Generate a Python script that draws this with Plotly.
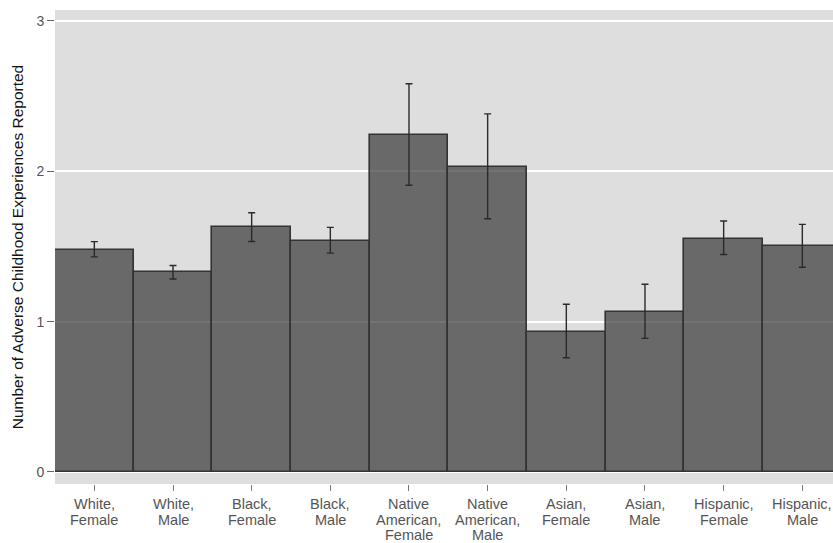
import plotly.graph_objects as go

# Mean number of adverse childhood experiences by race/ethnicity and sex, with 95% CIs
groups = [
    "White,<br>Female", "White,<br>Male", "Black,<br>Female", "Black,<br>Male",
    "Native<br>American,<br>Female", "Native<br>American,<br>Male",
    "Asian,<br>Female", "Asian,<br>Male", "Hispanic,<br>Female", "Hispanic,<br>Male",
]
means = [1.475, 1.327, 1.627, 1.536, 2.242, 2.029, 0.933, 1.067, 1.553, 1.500]
ci_low = [1.431, 1.284, 1.533, 1.456, 1.907, 1.684, 0.760, 0.889, 1.447, 1.362]
ci_high = [1.532, 1.373, 1.724, 1.627, 2.582, 2.382, 1.116, 1.249, 1.669, 1.647]
y_ticks = [0, 1, 2, 3]

x_pos = list(range(len(groups)))
err_plus = [h - m for h, m in zip(ci_high, means)]
err_minus = [m - l for m, l in zip(means, ci_low)]

fig = go.Figure(
    go.Bar(
        x=x_pos,
        y=means,
        width=1.0,
        marker=dict(color="rgba(56,56,56,0.7)", line=dict(color="#333333", width=1.6)),
        error_y=dict(
            type="data",
            symmetric=False,
            array=err_plus,
            arrayminus=err_minus,
            color="#2a2a2a",
            thickness=1.4,
            width=3.5,
        ),
        hoverinfo="skip",
    )
)

# Category labels: one text line per annotation, so the line spacing stays tight
label_font = dict(family="Liberation Sans, Arial, Helvetica, sans-serif", size=14.5, color="#555555")
for i, label in enumerate(groups):
    for k, line in enumerate(label.split("<br>")):
        fig.add_annotation(
            x=i, xref="x", y=0, yref="paper",
            text=line, showarrow=False,
            xanchor="center", yanchor="middle",
            yshift=-(20 + 15.5 * k),
            font=label_font,
        )

fig.update_layout(
    width=833,
    height=543,
    margin=dict(l=55, r=0, t=10, b=59),
    paper_bgcolor="white",
    plot_bgcolor="#dedede",
    font=dict(family="Liberation Sans, Arial, Helvetica, sans-serif", size=13, color="#555555"),
    showlegend=False,
    bargap=0,
)

fig.update_xaxes(
    tickmode="array",
    tickvals=x_pos,
    showticklabels=False,
    range=[-0.5, 9.39],
    showgrid=False,
    zeroline=False,
    showline=False,
    ticks="outside",
    ticklen=6,
    tickwidth=1,
    tickcolor="#777777",
    fixedrange=True,
)

fig.update_yaxes(
    range=[-0.08, 3.073],
    tickvals=y_ticks,
    ticktext=[str(v) for v in y_ticks],
    showgrid=True,
    gridcolor="white",
    gridwidth=1.5,
    zeroline=False,
    showline=False,
    ticks="outside",
    ticklen=7,
    tickwidth=1,
    tickcolor="#666666",
    tickfont=dict(size=14, color="#555555"),
    title=dict(
        text="Number of Adverse Childhood Experiences Reported",
        font=dict(size=15.5, color="#111111"),
        standoff=8,
    ),
    fixedrange=True,
)

fig.write_html("out.html")
